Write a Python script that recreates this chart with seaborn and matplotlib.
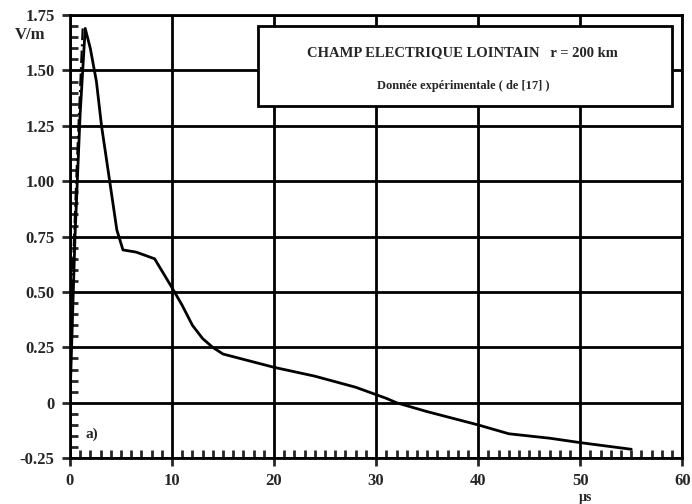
import matplotlib
matplotlib.use("Agg")
import matplotlib.pyplot as plt
import pandas as pd
import seaborn as sns
from matplotlib.patches import Rectangle
from matplotlib.ticker import MultipleLocator

t_us = [0.0, 0.2, 0.5, 1.0, 1.5, 2.0, 2.6, 3.1, 3.9, 4.6, 5.2, 6.5, 8.3,
        10.0, 11.0, 12.0, 13.0, 14.0, 15.0, 20.0, 24.0, 28.0, 31.0, 32.0,
        35.0, 40.0, 43.0, 47.0, 50.0, 55.0]
e_vm = [0.0, 0.3, 0.75, 1.3, 1.69, 1.6, 1.45, 1.25, 1.0, 0.78, 0.69, 0.68, 0.65,
        0.52, 0.44, 0.35, 0.29, 0.25, 0.22, 0.16, 0.12, 0.07, 0.02, 0.0,
        -0.04, -0.10, -0.14, -0.16, -0.18, -0.21]

# dash-dot rising front
front_t = [0.2, 0.7, 1.25]
front_e = [0.5, 1.1, 1.69]

df = pd.DataFrame({"t": t_us, "E": e_vm})
front = pd.DataFrame({"t": front_t, "E": front_e})

sns.set_style("white")
plt.rcParams["font.family"] = ["Liberation Serif", "DejaVu Serif"]
plt.rcParams["font.weight"] = "bold"

fig = plt.figure(figsize=(6.92, 5.04), dpi=100)
ax = fig.add_axes([0.101, 0.091, 0.885, 0.879])

sns.lineplot(data=df, x="t", y="E", color="black", linewidth=2, ax=ax)
sns.lineplot(data=front, x="t", y="E", color="black", linewidth=1.5,
             linestyle=(0, (6, 2, 1, 2)), ax=ax)

ax.set_xlim(0, 60)
ax.set_ylim(-0.25, 1.75)
ax.xaxis.set_major_locator(MultipleLocator(10))
ax.xaxis.set_minor_locator(MultipleLocator(1))
ax.yaxis.set_major_locator(MultipleLocator(0.25))
ax.yaxis.set_minor_locator(MultipleLocator(0.05))
ax.grid(True, which="major", color="black", linewidth=2)
ax.set_axisbelow(True)
for s in ax.spines.values():
    s.set_color("black")
    s.set_linewidth(2)

ax.tick_params(which="major", direction="out", length=6, width=2,
               labelsize=12, left=True, bottom=True, pad=5)
ax.tick_params(which="minor", direction="in", length=6, width=2,
               left=True, bottom=True)
ylabels = ["-0.25", "0", "0.25", "0.50", "0.75", "1.00", "1.25", "1.50", "1.75"]
ax.set_yticks([-0.25, 0, 0.25, 0.5, 0.75, 1.0, 1.25, 1.5, 1.75])
ax.set_yticklabels(ylabels, fontweight="bold")
ax.set_xticks([0, 10, 20, 30, 40, 50, 60])
ax.set_xticklabels(["0", "10", "20", "30", "40", "50", "60"], fontweight="bold")
ax.set_xlabel("")
ax.set_ylabel("")

fig.text(0.022, 0.922, "V/m", fontsize=12, fontweight="bold")
fig.text(0.836, 0.0, "µs", fontsize=10, fontweight="bold", va="bottom")
ax.text(1.5, -0.16, "a)", fontsize=11, fontweight="bold")

box = Rectangle((18.4, 1.34), 40.6, 0.36, facecolor="white",
                edgecolor="black", linewidth=2, zorder=5)
ax.add_patch(box)
ax.text(38.5, 1.58, "CHAMP ELECTRIQUE LOINTAIN   r = 200 km", ha="center",
        va="center", fontsize=10.5, fontweight="bold", zorder=6)
ax.text(38.5, 1.43, "Donnée expérimentale ( de [17] )", ha="center",
        va="center", fontsize=9, fontweight="bold", zorder=6)

fig.savefig("out.png", dpi=100)
